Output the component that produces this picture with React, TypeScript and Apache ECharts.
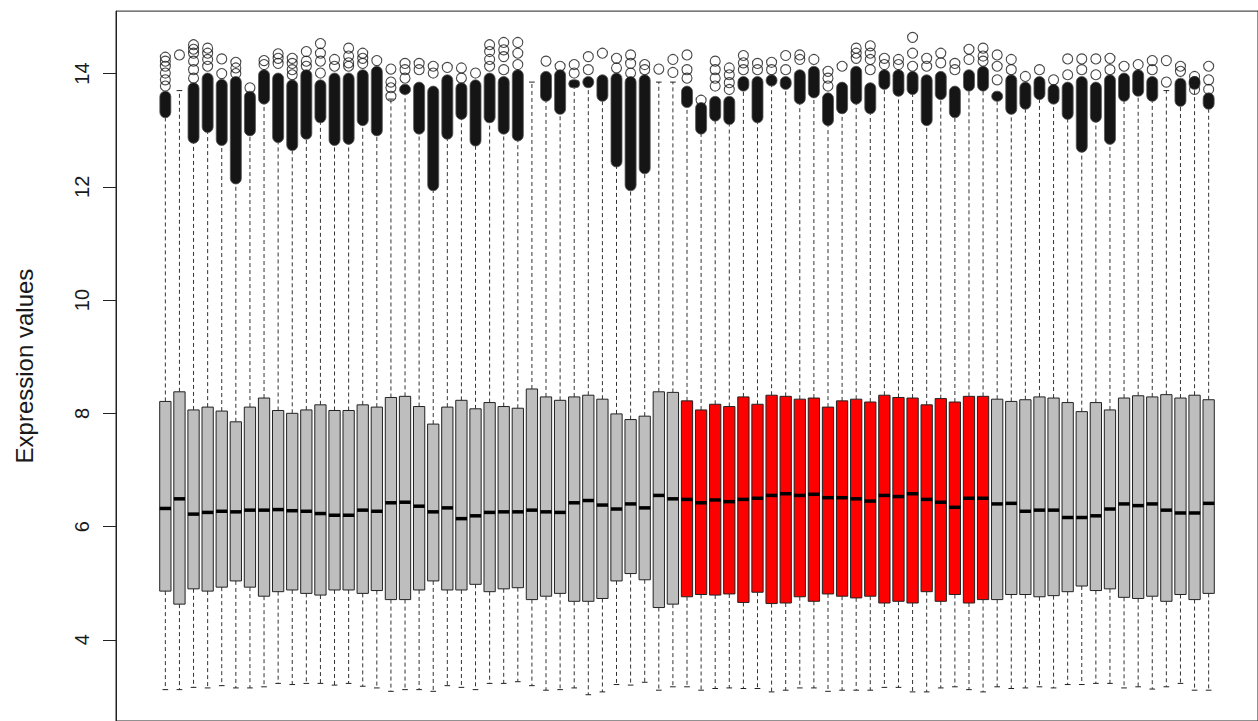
import React, { useEffect, useRef } from "react";
import * as echarts from "echarts";

// Group code for each of the 75 arrays: C = grey (control), T = red (treated)
const groups =
  "CCCCCCCCCCCCCCCCCCCCCCCCCCCCCCCCCCCCC" +
  "TTTTTTTTTTTTTTTTTTTTTT" +
  "CCCCCCCCCCCCCCCC";

const q3 = [
  8.21, 8.38, 8.06, 8.11, 8.04, 7.85, 8.11, 8.27, 8.05, 8.0, 8.06, 8.15, 8.05, 8.05, 8.15, 8.11, 8.28, 8.3, 8.12, 7.81,
  8.11, 8.23, 8.08, 8.19, 8.12, 8.09, 8.43, 8.29, 8.23, 8.29, 8.32, 8.25, 7.99, 7.89, 7.95, 8.38, 8.37, 8.22, 8.06, 8.16,
  8.12, 8.29, 8.16, 8.32, 8.3, 8.25, 8.27, 8.11, 8.22, 8.25, 8.2, 8.32, 8.28, 8.27, 8.15, 8.26, 8.2, 8.3, 8.3, 8.25,
  8.21, 8.24, 8.29, 8.27, 8.19, 8.03, 8.19, 8.06, 8.27, 8.31, 8.29, 8.33, 8.27, 8.32, 8.24,
];

const median = [
  6.32, 6.49, 6.22, 6.25, 6.27, 6.26, 6.29, 6.29, 6.3, 6.28, 6.27, 6.23, 6.2, 6.2, 6.29, 6.27, 6.42, 6.43, 6.36, 6.26,
  6.33, 6.14, 6.19, 6.25, 6.26, 6.26, 6.29, 6.26, 6.25, 6.42, 6.46, 6.38, 6.31, 6.4, 6.33, 6.55, 6.49, 6.48, 6.42, 6.47,
  6.44, 6.48, 6.5, 6.55, 6.58, 6.55, 6.57, 6.51, 6.51, 6.49, 6.45, 6.55, 6.53, 6.58, 6.48, 6.43, 6.34, 6.5, 6.5, 6.4,
  6.41, 6.27, 6.29, 6.29, 6.16, 6.16, 6.19, 6.31, 6.4, 6.37, 6.4, 6.29, 6.24, 6.24, 6.41,
];

const q1 = [
  4.86, 4.63, 4.9, 4.86, 4.93, 5.04, 4.93, 4.77, 4.85, 4.88, 4.82, 4.79, 4.88, 4.88, 4.82, 4.87, 4.71, 4.71, 4.88, 5.04,
  4.88, 4.88, 4.98, 4.85, 4.9, 4.92, 4.71, 4.77, 4.82, 4.68, 4.68, 4.73, 5.04, 5.17, 5.06, 4.57, 4.63, 4.76, 4.8, 4.79,
  4.81, 4.66, 4.84, 4.64, 4.65, 4.76, 4.68, 4.81, 4.77, 4.74, 4.77, 4.65, 4.68, 4.65, 4.85, 4.68, 4.8, 4.65, 4.71, 4.71,
  4.8, 4.8, 4.76, 4.78, 4.85, 4.95, 4.87, 4.9, 4.75, 4.73, 4.77, 4.68, 4.8, 4.71, 4.82,
];

const whiskerLow = [
  3.12, 3.12, 3.16, 3.15, 3.19, 3.15, 3.15, 3.17, 3.23, 3.21, 3.23, 3.23, 3.2, 3.23, 3.18, 3.15, 3.09, 3.12, 3.12, 3.09,
  3.19, 3.16, 3.12, 3.23, 3.23, 3.26, 3.19, 3.11, 3.12, 3.15, 3.03, 3.08, 3.21, 3.2, 3.25, 3.11, 3.17, 3.17, 3.11, 3.14,
  3.15, 3.14, 3.14, 3.08, 3.11, 3.15, 3.15, 3.09, 3.11, 3.11, 3.11, 3.16, 3.16, 3.08, 3.08, 3.15, 3.17, 3.12, 3.08, 3.17,
  3.14, 3.15, 3.17, 3.15, 3.21, 3.21, 3.23, 3.23, 3.15, 3.17, 3.13, 3.17, 3.23, 3.11, 3.11,
];

const whiskerHigh = [
  13.25, 13.7, 12.8, 13.0, 12.76, 12.08, 12.93, 13.5, 12.81, 12.67, 12.87, 13.16, 12.76, 12.78, 13.11, 12.93, 13.55, 13.66, 12.96, 11.96,
  12.87, 13.22, 12.75, 13.16, 12.96, 12.84, 13.85, 13.54, 13.31, 13.78, 13.78, 13.54, 12.38, 11.96, 12.26, 13.85, 13.85, 13.43, 12.96, 13.19,
  13.13, 13.72, 13.16, 13.81, 13.75, 13.49, 13.6, 13.11, 13.32, 13.49, 13.32, 13.75, 13.63, 13.66, 13.11, 13.57, 13.25, 13.72, 13.72, 13.54,
  13.31, 13.4, 13.57, 13.49, 13.22, 12.64, 13.17, 12.78, 13.54, 13.63, 13.54, 13.7, 13.45, 13.75, 13.4,
];

// Extent of the solid, overplotted run of outlier circles (null = none)
const denseLow: (number | null)[] = [
  13.22, null, 12.77, 12.96, 12.73, 12.05, 12.9, 13.46, 12.78, 12.64, 12.84, 13.13, 12.73, 12.75, 13.08, 12.9, null, 13.63, 12.93, 11.93,
  12.84, 13.19, 12.72, 13.13, 12.93, 12.81, null, 13.51, 13.28, 13.75, 13.75, 13.51, 12.35, 11.93, 12.23, null, null, 13.4, 12.93, 13.16,
  13.1, 13.69, 13.13, 13.78, 13.72, 13.46, 13.57, 13.08, 13.29, 13.46, 13.29, 13.72, 13.6, 13.63, 13.08, 13.54, 13.22, 13.69, 13.69, 13.51,
  13.28, 13.37, 13.54, 13.46, 13.19, 12.61, 13.14, 12.75, 13.51, 13.6, 13.51, null, 13.42, 13.72, 13.37,
];
const denseHigh: (number | null)[] = [
  13.69, null, 13.84, 14.01, 13.9, 13.95, 13.69, 14.07, 14.01, 13.89, 14.07, 13.89, 14.01, 14.01, 14.07, 14.13, null, 13.81, 13.85, 13.78,
  13.98, 13.84, 13.89, 14.01, 13.95, 14.07, null, 14.04, 14.07, 13.89, 13.95, 13.98, 14.01, 13.95, 13.98, null, null, 13.78, 13.49, 13.6,
  13.6, 13.95, 13.95, 13.98, 13.95, 14.07, 14.13, 13.66, 13.85, 14.13, 13.84, 14.07, 14.07, 14.04, 13.98, 14.04, 13.78, 14.07, 14.13, 13.69,
  13.98, 13.85, 13.95, 13.81, 13.85, 13.95, 13.85, 13.98, 14.01, 14.07, 13.95, null, 13.92, 13.95, 13.66,
];

// Individually visible outlier circles
const outliers: number[][] = [
  [14.29, 14.22, 14.13, 14.01, 13.89, 13.78], [14.33], [14.51, 14.43, 14.36, 14.22, 14.07, 13.92], [14.45, 14.36, 14.25, 14.13],
  [14.26, 14.0], [14.2, 14.1, 14.0], [13.75], [14.23, 14.16], [14.35, 14.27, 14.18], [14.27, 14.18, 14.07, 13.98],
  [14.39, 14.22, 14.13], [14.53, 14.36, 14.22, 14.01], [14.25, 14.13], [14.45, 14.31, 14.19, 14.13], [14.36, 14.27, 14.18],
  [14.23], [14.08, 13.85, 13.75, 13.6], [14.18, 14.07, 13.92], [14.18, 14.07], [14.13, 14.01],
  [14.11], [14.1, 13.92], [14.01], [14.51, 14.39, 14.25, 14.13], [14.55, 14.42, 14.3, 14.07],
  [14.55, 14.36, 14.16], [], [14.22], [14.13], [14.16, 14.01],
  [14.3, 14.07], [14.36], [14.27, 14.1], [14.33, 14.18, 14.01], [14.16, 14.07],
  [14.08], [14.25, 14.02], [14.33, 14.07, 13.92], [13.53], [14.22, 14.07, 13.92, 13.78],
  [14.1, 13.98, 13.84, 13.72], [14.32, 14.19, 14.07], [14.18, 14.07], [14.2, 14.07], [14.32, 14.07],
  [14.33, 14.25], [14.25], [14.04, 13.92, 13.78], [14.13], [14.45, 14.36, 14.27],
  [14.49, 14.36, 14.25, 14.07], [14.27, 14.16], [14.25, 14.16], [14.64, 14.36, 14.13], [14.27, 14.13],
  [14.36, 14.19], [14.18, 14.07], [14.43, 14.25], [14.45, 14.31, 14.22], [14.33, 14.13, 13.89],
  [14.25, 14.07], [13.95], [14.07], [13.89], [14.26, 13.98],
  [14.26, 14.07], [14.26, 13.98], [14.27, 14.07], [14.13], [14.16],
  [14.23, 14.07], [14.23, 13.85], [14.13, 14.04], [13.95, 13.86, 13.72], [14.13, 13.89, 13.72],
];

const yTicks = [4, 6, 8, 10, 12, 14];

export default function App() {
  const ref = useRef<HTMLDivElement>(null);

  useEffect(() => {
    if (!ref.current) return;
    const chart = echarts.init(ref.current, undefined, { renderer: "svg" });

    const boxData = q3.map((_, i) => [
      i + 1, whiskerLow[i], q1[i], median[i], q3[i], whiskerHigh[i], groups[i] === "T" ? 1 : 0,
    ]);
    const denseData: number[][] = [];
    denseLow.forEach((lo, i) => {
      const hi = denseHigh[i];
      if (lo != null && hi != null) denseData.push([i + 1, lo, hi]);
    });
    const outlierData: number[][] = [];
    outliers.forEach((vals, i) => vals.forEach((v) => outlierData.push([i + 1, v])));

    const font = "'Liberation Sans', Arial, Helvetica, sans-serif";

    chart.setOption({
      animation: false,
      backgroundColor: "#ffffff",
      grid: {
        show: true,
        left: 116,
        top: 11.1,
        width: 1150.2,
        height: 714.6,
        borderColor: "#222",
        borderWidth: 1,
        backgroundColor: "transparent",
      },
      xAxis: {
        type: "value",
        min: -2.5,
        max: 78.5,
        show: false,
      },
      yAxis: {
        type: "value",
        min: 2.566,
        max: 15.104,
        axisLine: { show: true, onZero: false, lineStyle: { color: "#222", width: 1 } },
        axisTick: { show: true, length: 13, customValues: yTicks, lineStyle: { color: "#222", width: 1 } },
        axisLabel: {
          customValues: yTicks,
          rotate: 90,
          fontSize: 20,
          margin: 24,
          color: "#1a1a1a",
          fontFamily: font,
        },
        splitLine: { show: false },
        name: "Expression values",
        nameLocation: "middle",
        nameRotate: 90,
        nameGap: 80,
        nameTextStyle: { fontSize: 24, color: "#1a1a1a", fontFamily: font },
      },
      series: [
        {
          type: "custom",
          silent: true,
          z: 2,
          data: boxData,
          encode: { x: 0, y: [1, 2, 3, 4, 5] },
          renderItem: (params: any, api: any) => {
            const x = api.value(0);
            const pLo = api.coord([x, api.value(1)]);
            const pB = api.coord([x, api.value(2)]);
            const pM = api.coord([x, api.value(3)]);
            const pT = api.coord([x, api.value(4)]);
            const pHi = api.coord([x, api.value(5)]);
            const treated = api.value(6) === 1;
            const half = api.size([0.4, 0])[0];
            const capHalf = api.size([0.2, 0])[0];
            const cx = pB[0];
            const dash = { stroke: "#333", lineWidth: 1, lineDash: [4, 3] };
            const solid = { stroke: "#222", lineWidth: 1 };
            return {
              type: "group",
              children: [
                { type: "line", shape: { x1: cx, y1: pT[1], x2: cx, y2: pHi[1] }, style: dash },
                { type: "line", shape: { x1: cx, y1: pB[1], x2: cx, y2: pLo[1] }, style: dash },
                { type: "line", shape: { x1: cx - capHalf, y1: pHi[1], x2: cx + capHalf, y2: pHi[1] }, style: solid },
                { type: "line", shape: { x1: cx - capHalf, y1: pLo[1], x2: cx + capHalf, y2: pLo[1] }, style: solid },
                {
                  type: "rect",
                  shape: { x: cx - half, y: pT[1], width: 2 * half, height: pB[1] - pT[1] },
                  style: { fill: treated ? "#ff0000" : "#bebebe", stroke: "#222", lineWidth: 1 },
                },
                {
                  type: "line",
                  shape: { x1: cx - half, y1: pM[1], x2: cx + half, y2: pM[1] },
                  style: { stroke: "#000", lineWidth: 3.5 },
                },
              ],
            };
          },
        },
        {
          type: "custom",
          silent: true,
          z: 3,
          data: denseData,
          encode: { x: 0, y: [1, 2] },
          renderItem: (params: any, api: any) => {
            const x = api.value(0);
            const pLo = api.coord([x, api.value(1)]);
            const pHi = api.coord([x, api.value(2)]);
            return {
              type: "rect",
              shape: { x: pLo[0] - 5.5, y: pHi[1], width: 11, height: pLo[1] - pHi[1], r: 5.5 },
              style: { fill: "#151515", stroke: "#555", lineWidth: 0.8 },
            };
          },
        },
        {
          type: "scatter",
          silent: true,
          z: 4,
          data: outlierData,
          symbol: "circle",
          symbolSize: 10,
          itemStyle: { color: "rgba(0,0,0,0)", borderColor: "#1a1a1a", borderWidth: 1.1 },
        },
      ],
    });

    return () => chart.dispose();
  }, []);

  return (
    <div
      ref={ref}
      style={{ position: "fixed", left: 0, top: 0, width: 1258, height: 721, background: "#fff" }}
    />
  );
}
